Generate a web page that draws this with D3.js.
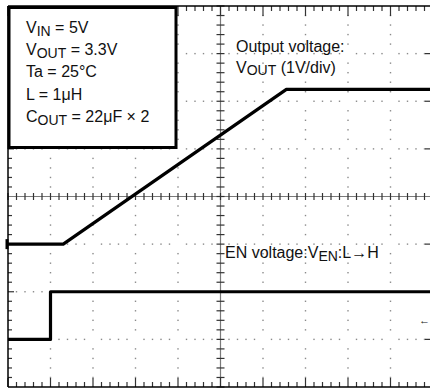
<!DOCTYPE html>
<html lang="en">
<head>
  <meta charset="UTF-8" />
  <title>Start-up waveform</title>
  <script src="https://d3js.org/d3.v7.min.js"></script>
  <style>
    body {
      margin: 0;
      padding: 0;
      background-color: #fff;
    }

    svg {
      display: block;
      font-family: "Liberation Sans", Arial, sans-serif;
    }

    .dot {
      fill: #8a8a8a;
    }

    .axis-line {
      stroke: #7a7a7a;
      stroke-width: 1.2px;
    }

    .tick {
      stroke: #333;
      stroke-width: 1.2px;
    }

    .trace {
      fill: none;
      stroke: #000;
      stroke-width: 3.2px;
      stroke-linejoin: round;
    }

    .label {
      font-size: 16px;
      fill: #111;
    }
  </style>
</head>
<body>
  <svg width="430" height="388"></svg>

  <script>
    // time axis in divisions, levels in divisions from screen centre
    const xDivs = d3.range(0, 11);
    const yDivs = d3.range(-4, 5);

    const voutTime = [0, 1.3, 6.55, 10];
    const voutLevel = [-1.0, -1.0, 2.25, 2.25];

    const enTime = [0, 1.0, 1.0, 10];
    const enLevel = [-3.0, -3.0, -2.0, -2.0];

    const condLines = [
      [["V", 0], ["IN", 1], [" = 5V", 0]],
      [["V", 0], ["OUT", 1], [" = 3.3V", 0]],
      [["Ta = 25°C", 0]],
      [["L = 1μH", 0]],
      [["C", 0], ["OUT", 1], [" = 22μF × 2", 0]]
    ];

    const svg = d3.select("svg");

    const x = d3.scaleLinear().domain([0, 10]).range([8, 433]);
    const y = d3.scaleLinear().domain([-4, 4]).range([387, 6]);

    const minor = d3.range(0, 10.01, 0.2);
    const minorY = d3.range(-4, 4.01, 0.2);
    const isMajor = v => Math.abs(Math.round(v) - v) < 0.01;

    // dotted grid
    const grid = svg.append("g");
    xDivs.slice(1, -1).forEach(d => {
      if (d === 5) return;
      grid.selectAll(null)
        .data(minorY.filter(v => !isMajor(v)))
        .enter().append("rect")
        .attr("class", "dot")
        .attr("x", x(d) - 0.7)
        .attr("y", v => y(v) - 0.7)
        .attr("width", 1.4)
        .attr("height", 1.4);
    });
    yDivs.slice(1, -1).forEach(d => {
      if (d === 0) return;
      grid.selectAll(null)
        .data(minor.filter(v => !isMajor(v)))
        .enter().append("rect")
        .attr("class", "dot")
        .attr("x", v => x(v) - 0.7)
        .attr("y", y(d) - 0.7)
        .attr("width", 1.4)
        .attr("height", 1.4);
      // short marks where grid rows meet the frame
      grid.append("line").attr("class", "tick")
        .attr("x1", x(0)).attr("x2", x(0) + 6)
        .attr("y1", y(d)).attr("y2", y(d));
      grid.append("line").attr("class", "tick")
        .attr("x1", x(10) - 8).attr("x2", x(10))
        .attr("y1", y(d)).attr("y2", y(d));
    });

    // centre axes with minor ticks
    const axes = svg.append("g");
    axes.append("line").attr("class", "axis-line")
      .attr("x1", x(0)).attr("x2", x(10))
      .attr("y1", y(0)).attr("y2", y(0));
    axes.append("line").attr("class", "axis-line")
      .attr("x1", x(5)).attr("x2", x(5))
      .attr("y1", y(4)).attr("y2", y(-4));

    axes.selectAll(".hx")
      .data(minor)
      .enter().append("line")
      .attr("class", "tick")
      .attr("x1", d => x(d)).attr("x2", d => x(d))
      .attr("y1", y(0) - 3.5).attr("y2", y(0) + 3.5);

    axes.selectAll(".vy")
      .data(minorY)
      .enter().append("line")
      .attr("class", "tick")
      .attr("x1", x(5) - 4).attr("x2", x(5) + 4)
      .attr("y1", d => y(d)).attr("y2", d => y(d));

    // frame ticks, top and bottom
    axes.selectAll(".top")
      .data(minor)
      .enter().append("line")
      .attr("class", "tick")
      .attr("x1", d => x(d)).attr("x2", d => x(d))
      .attr("y1", y(4)).attr("y2", d => y(4) + (isMajor(d) ? 10 : 5));
    axes.selectAll(".bottom")
      .data(minor)
      .enter().append("line")
      .attr("class", "tick")
      .attr("x1", d => x(d)).attr("x2", d => x(d))
      .attr("y1", y(-4)).attr("y2", d => y(-4) - (isMajor(d) ? 9 : 5));

    // left edge ticks between rows
    axes.selectAll(".left")
      .data(minorY.filter(v => !isMajor(v)))
      .enter().append("line")
      .attr("class", "tick")
      .attr("x1", x(0)).attr("x2", x(0) + 4)
      .attr("y1", d => y(d)).attr("y2", d => y(d));

    // frame
    svg.append("line").attr("stroke", "#000").attr("stroke-width", 1.5)
      .attr("x1", x(0)).attr("x2", x(10)).attr("y1", y(4)).attr("y2", y(4));
    svg.append("line").attr("stroke", "#000").attr("stroke-width", 1.5)
      .attr("x1", x(0)).attr("x2", x(10)).attr("y1", y(-4)).attr("y2", y(-4));
    svg.append("line").attr("stroke", "#000").attr("stroke-width", 1.5)
      .attr("x1", x(0)).attr("x2", x(0)).attr("y1", y(4)).attr("y2", y(-4));

    // traces
    const line = d3.line().x(d => x(d[0])).y(d => y(d[1]));
    svg.append("path").attr("class", "trace")
      .attr("d", line(d3.zip(voutTime, voutLevel)));
    svg.append("path").attr("class", "trace")
      .attr("d", line(d3.zip(enTime, enLevel)));

    // channel markers
    svg.append("line").attr("stroke", "#000").attr("stroke-width", 3)
      .attr("x1", x(0) - 1).attr("x2", x(0) - 1)
      .attr("y1", y(-1) - 5).attr("y2", y(-1) + 5);
    svg.append("text").attr("class", "label")
      .attr("x", 419).attr("y", y(-2.6) + 4)
      .style("font-size", "11px")
      .text("←");

    // conditions box
    svg.append("rect")
      .attr("x", 9).attr("y", 7.5)
      .attr("width", 167).attr("height", 140)
      .attr("fill", "#fff")
      .attr("stroke", "#000")
      .attr("stroke-width", 3);

    const cond = svg.append("text").attr("class", "label");
    condLines.forEach((parts, i) => {
      parts.forEach((p, j) => {
        const t = cond.append("tspan").text(p[0]);
        if (j === 0) t.attr("x", 26).attr("y", 33 + i * 22.2);
        if (p[1]) t.attr("dy", 3).style("font-size", "14px");
        else if (j > 0 && parts[j - 1][1]) t.attr("dy", -3);
      });
    });

    // channel labels
    const outLabel = svg.append("text").attr("class", "label");
    outLabel.append("tspan").attr("x", 236).attr("y", 52).text("Output voltage:");
    outLabel.append("tspan").attr("x", 236).attr("y", 73).text("V");
    outLabel.append("tspan").attr("dy", 2).style("font-size", "14px").text("OUT");
    outLabel.append("tspan").attr("dy", -2).text(" (1V/div)");

    const enLabel = svg.append("text").attr("class", "label");
    enLabel.append("tspan").attr("x", 225).attr("y", 258).text("EN voltage:V");
    enLabel.append("tspan").attr("dy", 3).style("font-size", "14px").text("EN");
    enLabel.append("tspan").attr("dy", -3).text(":L→H");
  </script>
</body>
</html>
